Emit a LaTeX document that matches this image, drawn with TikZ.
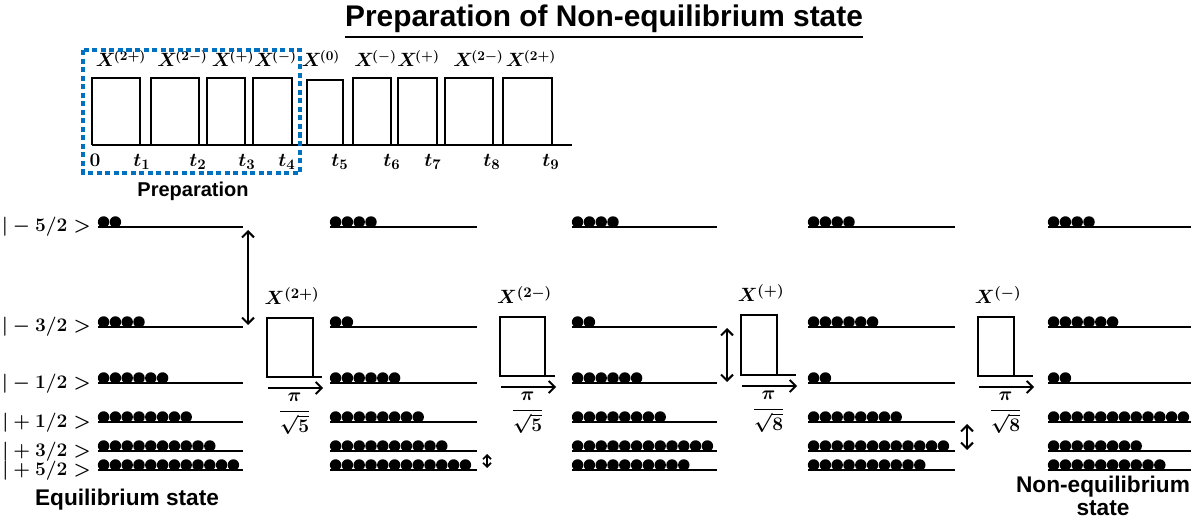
\documentclass[tikz,border=0pt]{standalone}
\usepackage{amsmath,bm}
\usepackage{fontspec}
\setsansfont{Liberation Sans}
\usetikzlibrary{arrows.meta}
\definecolor{prepblue}{RGB}{0,112,192}

% one column of six spin levels with their populations
\newcommand\statepanel[4]{%
  \foreach \nd [count=\k from 0] in {#4} {%
    \pgfmathsetmacro\yy{{227,327,383,422,451,470}[\k]}%
    \draw[level] (#2,\yy) coordinate (#1-\k-w) -- (#3,\yy) coordinate (#1-\k-e);%
    \foreach \i in {1,...,\nd} {\fill (#2+5.6+11.8*\i-11.8,\yy-5) circle[radius=4.3pt];}%
  }}

% a selective pulse with its label, duration arrow and angle
\newcommand\midpulse[8]{%
  \draw[pulseline] (#2,#5) rectangle (#3,#4);
  \draw[pulseline] (#3,#5) -- (#6,#5);
  \node[mathlabel, anchor=base] (#1-lab) at ({(#2+#3)/2+2},#4-13) {$X^{(#7)}$};
  \coordinate (#1-from) at (#2+1,#5+11);
  \coordinate (#1-to) at (#6+1,#5+11);
  \draw[sweep] (#1-from) -- (#1-to);
  \node[fraclabel] (#1-frac) at ({(#2+#6)/2},#5+37)
    {$\dfrac{\pi\rule[-3pt]{0pt}{0pt}}{\rule{0pt}{14pt}\sqrt{#8}}$};
}

\begin{document}
\begin{tikzpicture}[x=0.75pt,y=-0.75pt,
  level/.style={line width=1.5pt},
  pulseline/.style={line width=1.8pt},
  flip/.style={line width=1.5pt,{Straight Barb[length=4.5pt,width=9pt]}-{Straight Barb[length=4.5pt,width=9pt]}},
  smallflip/.style={line width=1.3pt,{Straight Barb[length=3pt,width=6pt]}-{Straight Barb[length=3pt,width=6pt]}},
  sweep/.style={line width=1.4pt,-{Straight Barb[length=4.5pt,width=9pt]}},
  mathlabel/.style={font=\boldmath\fontsize{15}{17}\selectfont, inner sep=0pt},
  seqlabel/.style={font=\boldmath\fontsize{14}{16}\selectfont, inner sep=0pt},
  fraclabel/.style={font=\boldmath\fontsize{13.5}{15}\selectfont, inner sep=0pt},
  statelabel/.style={font=\boldmath\fontsize{14.5}{16}\selectfont, anchor=base east, inner sep=0pt},
  timelabel/.style={font=\boldmath\fontsize{15}{17}\selectfont, anchor=base, inner sep=0pt},
  sftext/.style={font=\sffamily\bfseries\fontsize{17}{17.3}\selectfont, inner sep=0pt, align=center},
  titletext/.style={font=\sffamily\bfseries\fontsize{22.4}{24}\selectfont, inner sep=0pt}]
\useasboundingbox (0,0) rectangle (1191,523);

% heading
\node[titletext] (title) at (604,22) {\underline{Preparation of Non-equilibrium state}};

% pulse sequence
\draw[pulseline] (92,145) -- (572,145);
\foreach \a/\b/\t in {92/140/78, 151/199/78, 207/245/78, 253/292/78, 307/343/80,
                      353/391/78, 398/437/78, 445/493/78, 503/552/78}
  \draw[pulseline] (\a,145) |- (\b,\t) -- (\b,145);
\foreach \cx/\pl [count=\n] in {121/2+, 182.5/2-, 233/+, 275.5/-, 321/0,
                                375.5/-, 418.5/+, 478.5/2-, 531/2+}
  \node[seqlabel, anchor=base] (seq\n) at (\cx,67) {$X^{\mkern-2mu(\pl)}$};
\foreach \cx/\pl [count=\n from 0] in {95/0, 142/t_1, 198/t_2, 247/t_3, 287/t_4,
                                       340/t_5, 392/t_6, 433/t_7, 492/t_8, 551/t_9}
  \node[timelabel] (time\n) at (\cx,167) {$\pl$};

% preparation part of the sequence
\draw[prepblue, line width=3.5pt, dash pattern=on 3.8pt off 2.6pt] (83,50) rectangle (300,173);
\node[sftext, font=\sffamily\bfseries\fontsize{15}{16}\selectfont] (prep) at (193,191) {Preparation};

% level labels
\foreach \m [count=\k from 0] in {-5,-3,-1,+1,+3,+5} {
  \pgfmathsetmacro\yy{{227,327,383,422,451,470}[\k]}
  \node[statelabel] (ket\k) at (91,\yy+5) {$|\m/2>$};
}

% populations after each step
\statepanel{pA}{98}{243}{2,4,6,8,10,12}
\statepanel{pB}{330}{477}{4,2,6,8,10,12}
\statepanel{pC}{572}{717}{4,2,6,8,12,10}
\statepanel{pD}{808}{955}{4,6,2,8,12,10}
\statepanel{pE}{1048}{1191}{4,6,2,12,8,10}

% selective pulses
\midpulse{qA}{267}{313}{318}{377}{322}{2+}{5}
\midpulse{qB}{500}{545}{317}{376}{555}{2-}{5}
\midpulse{qC}{741}{777}{315}{375}{796}{+}{8}
\midpulse{qD}{978}{1014}{317}{376}{1033}{-}{8}

% exchanged level pairs
\coordinate (f1a) at (248,230); \coordinate (f1b) at (248,325);
\draw[flip] (f1a) -- (f1b);
\coordinate (f2a) at (487,454); \coordinate (f2b) at (487,468);
\draw[smallflip] (f2a) -- (f2b);
\coordinate (f3a) at (727,328); \coordinate (f3b) at (727,382);
\draw[flip] (f3a) -- (f3b);
\coordinate (f4a) at (967,424); \coordinate (f4b) at (967,450);
\draw[flip] (f4a) -- (f4b);

% state captions
\node[sftext] (eq) at (127,500) {Equilibrium state};
\node[sftext] (neq) at (1103,496) {Non-equilibrium\\state};
\end{tikzpicture}
\end{document}
